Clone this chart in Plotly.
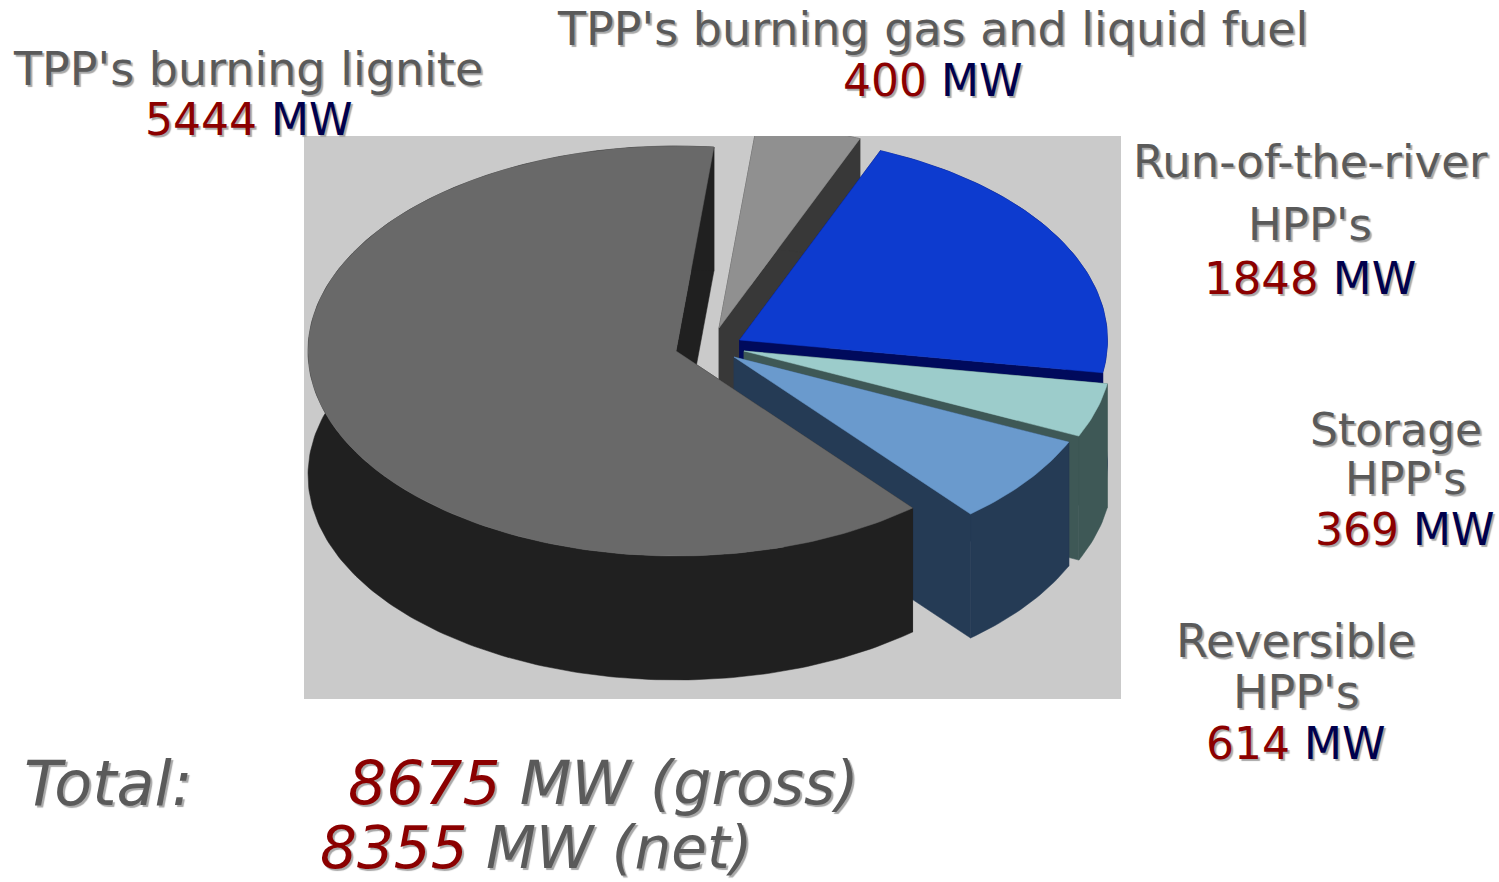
import math
import plotly.graph_objects as go

# Data
categories = ["TPP's burning lignite", "TPP's burning gas and liquid fuel",
              "Run-of-the-river HPP's", "Storage HPP's", "Reversible HPP's"]
values_mw = [5444, 400, 1848, 369, 614]
total_gross = 8675
total_net = 8355

# Projection / styling (pixel-like axis units)
start_angle = 140.0
order = [0, 1, 2, 3, 4]
apex_x = [676, 719, 739.5, 744, 734]
apex_y = [351, 328, 340, 351, 357]
RX, RY, DEPTH = 368.0, 205.0, 124.0
top_colors = ["#696969", "#909090", "#0d3bcf", "#9ccccb", "#6a9acd"]
wall_colors = ["#202020", "#383838", "#000a5c", "#3e5856", "#253b55"]
draw_order = [1, 2, 3, 4, 0]

W, H = 1499, 882
L, R, T, B = 304, 1121, 136, 699


def rim(cx, cy, a0, a1, dy=0.0):
    n = max(2, int(abs(a1 - a0) / 1.0))
    xs, ys = [], []
    for i in range(n + 1):
        a = math.radians(a0 + (a1 - a0) * i / n)
        xs.append(cx + RX * math.sin(a))
        ys.append(cy - RY * math.cos(a) + dy)
    return xs, ys


spans = {}
angle = start_angle
for i in order:
    sweep = 360.0 * values_mw[i] / sum(values_mw)
    spans[i] = (angle, angle + sweep)
    angle += sweep

fig = go.Figure()


def poly(xs, ys, color, name):
    fig.add_trace(go.Scatter(x=xs + xs[:1], y=ys + ys[:1], mode="lines", fill="toself",
                             fillcolor=color, line=dict(color=color, width=0.5),
                             hoverinfo="text", text=name, showlegend=False))


for i in draw_order:
    a0, a1 = spans[i]
    cx, cy = apex_x[i], apex_y[i]
    # radial side walls
    for a in (a0, a1):
        ex, ey = rim(cx, cy, a, a + 0.001)
        poly([cx, ex[0], ex[0], cx], [cy, ey[0], ey[0] + DEPTH, cy + DEPTH],
             wall_colors[i], categories[i])
    # outer wall
    tx, ty = rim(cx, cy, a0, a1)
    bx, by = rim(cx, cy, a1, a0, DEPTH)
    # only the front part of the rim is seen, the rest is hidden by the top face
    poly(tx + bx, ty + by, wall_colors[i], categories[i])
    # top face
    poly([cx] + tx, [cy] + ty, top_colors[i], categories[i])

GREY, RED, NAVY = "#5a5a5a", "#8b0000", "#00004d"
SHADOW = "2px 2px 1px #a8a8a8"


def label(px, py, text, size, anchor="center"):
    fig.add_annotation(xref="paper", yref="paper",
                       x=(px - L) / (R - L), y=(B - py) / (B - T),
                       text=text, showarrow=False, xanchor=anchor, yanchor="middle",
                       font=dict(family="DejaVu Sans", size=size, color=GREY, shadow=SHADOW))


def c(text, color):
    return f'<span style="color:{color}">{text}</span>'


def mw(v):
    return c(f"{v}", RED) + " " + c("MW", NAVY)


label(248, 69, categories[0], 46)
label(248, 120, mw(values_mw[0]), 44)
label(932, 29, categories[1], 46)
label(932, 80, mw(values_mw[1]), 44)
label(1310, 162, "Run-of-the-river", 45)
label(1310, 225, "HPP's", 45)
label(1310, 278, mw(values_mw[2]), 45)
label(1396, 429, "Storage", 44)
label(1405, 478, "HPP's", 44)
label(1404, 529, mw(values_mw[3]), 44)
label(1296, 641, "Reversible", 46)
label(1296, 692, "HPP's", 46)
label(1295, 743, mw(values_mw[4]), 44)
label(22, 783, "<i>Total:</i>", 62, "left")
label(346, 783, "<i>" + c(total_gross, RED) + " MW (gross)</i>", 60, "left")
label(318, 848, "<i>" + c(total_net, RED) + " MW (net)</i>", 58, "left")

fig.update_layout(
    width=W, height=H,
    margin=dict(l=L, r=W - R, t=T, b=H - B),
    paper_bgcolor="white", plot_bgcolor="#cacaca",
    showlegend=False,
    xaxis=dict(range=[L, R], visible=False, fixedrange=True),
    yaxis=dict(range=[B, T], visible=False, fixedrange=True),
)
fig.write_html("out.html", config=dict(displayModeBar=False),
               post_script="document.body.style.margin='0';document.body.style.overflow='hidden';")
